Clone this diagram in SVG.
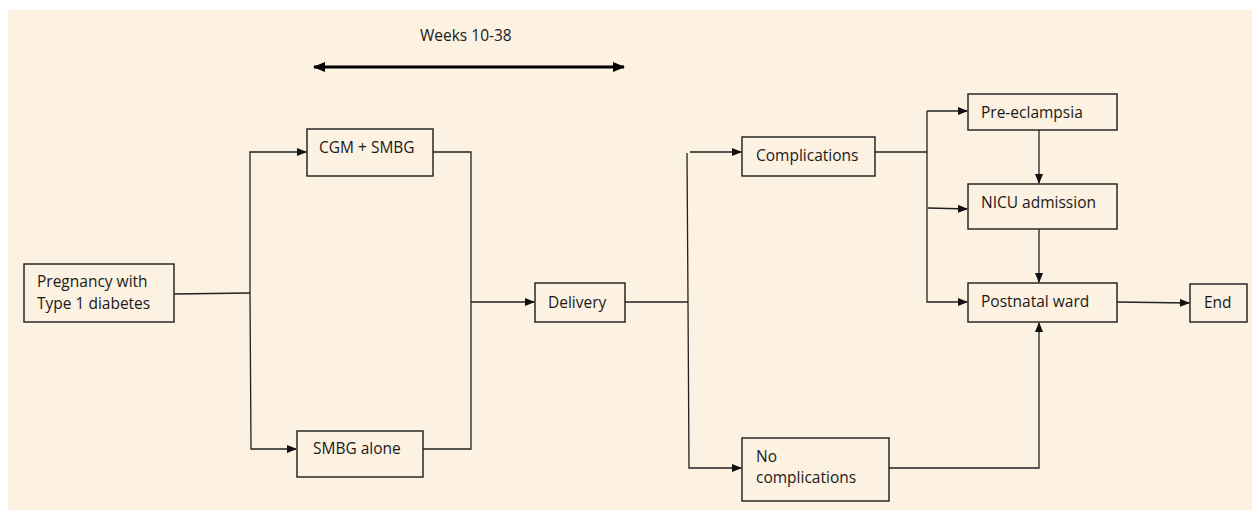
<svg xmlns="http://www.w3.org/2000/svg" width="1252" height="510" viewBox="0 0 1252 510">
<defs>
<marker id="ah" markerWidth="10" markerHeight="8" refX="9" refY="4" orient="auto" markerUnits="userSpaceOnUse">
<path d="M0,0 L10,4 L0,8 Z" fill="#111"/>
</marker>
<marker id="ahb" markerWidth="12" markerHeight="10" refX="11" refY="5" orient="auto-start-reverse" markerUnits="userSpaceOnUse">
<path d="M0,0 L12,5 L0,10 Z" fill="#000"/>
</marker>
<style>
.box{fill:#FDF1E1;stroke:#1a1a1a;stroke-width:1.4}
.t{font-family:"Open Sans","Liberation Sans",sans-serif;font-size:15.5px;fill:#1a1a1a}
.c{fill:none;stroke:#222;stroke-width:1.3}
</style>
</defs>
<rect x="0" y="0" width="1252" height="510" fill="#ffffff"/>
<rect x="8" y="10" width="1244" height="500" fill="#FDF1E1"/>
<text class="t" x="420" y="41">Weeks 10-38</text>
<line x1="314" y1="67" x2="624" y2="67" stroke="#000" stroke-width="3" marker-start="url(#ahb)" marker-end="url(#ahb)"/>
<g id="connectors">
<polyline class="c" points="174,294 250,293"/>
<polyline class="c" points="250,293 250,152 306,152" marker-end="url(#ah)"/>
<polyline class="c" points="250,293 251,449 296,449" marker-end="url(#ah)"/>
<polyline class="c" points="433,152 471,152 471,449 423,449"/>
<polyline class="c" points="471,302 534,302" marker-end="url(#ah)"/>
<polyline class="c" points="625,302 688,302"/>
<polyline class="c" points="690,152 741,152" marker-end="url(#ah)"/>
<polyline class="c" points="687,153 688,302 689,468 741,468" marker-end="url(#ah)"/>
<polyline class="c" points="875,152 927,152"/>
<polyline class="c" points="927,111 967,111" marker-end="url(#ah)"/>
<polyline class="c" points="927,111 927,302 967,302" marker-end="url(#ah)"/>
<polyline class="c" points="928,208 967,209" marker-end="url(#ah)"/>
<polyline class="c" points="1039,130 1039,183" marker-end="url(#ah)"/>
<polyline class="c" points="1039,229 1039,282" marker-end="url(#ah)"/>
<polyline class="c" points="889,468 1039,468 1039,323" marker-end="url(#ah)"/>
<polyline class="c" points="1117,302 1189,303" marker-end="url(#ah)"/>
</g>
<g id="pregnancy"><rect class="box" x="24" y="264" width="150" height="58"/><text class="t" x="37" y="287">Pregnancy with</text><text class="t" x="37" y="309">Type 1 diabetes</text></g>
<g id="cgm"><rect class="box" x="307" y="129" width="126" height="47"/><text class="t" x="319" y="153">CGM + SMBG</text></g>
<g id="smbg"><rect class="box" x="297" y="431" width="126" height="46"/><text class="t" x="313" y="454">SMBG alone</text></g>
<g id="delivery"><rect class="box" x="535" y="283" width="90" height="39"/><text class="t" x="548" y="308">Delivery</text></g>
<g id="complications"><rect class="box" x="742" y="137" width="133" height="39"/><text class="t" x="756" y="161">Complications</text></g>
<g id="nocomplications"><rect class="box" x="742" y="438" width="147" height="63"/><text class="t" x="756" y="462">No</text><text class="t" x="756" y="483">complications</text></g>
<g id="preeclampsia"><rect class="box" x="968" y="94" width="149" height="36"/><text class="t" x="981" y="118">Pre-eclampsia</text></g>
<g id="nicu"><rect class="box" x="968" y="184" width="149" height="45"/><text class="t" x="981" y="208">NICU admission</text></g>
<g id="postnatal"><rect class="box" x="968" y="283" width="149" height="39"/><text class="t" x="981" y="307">Postnatal ward</text></g>
<g id="end"><rect class="box" x="1190" y="284" width="57" height="38"/><text class="t" x="1204" y="308">End</text></g>
</svg>
